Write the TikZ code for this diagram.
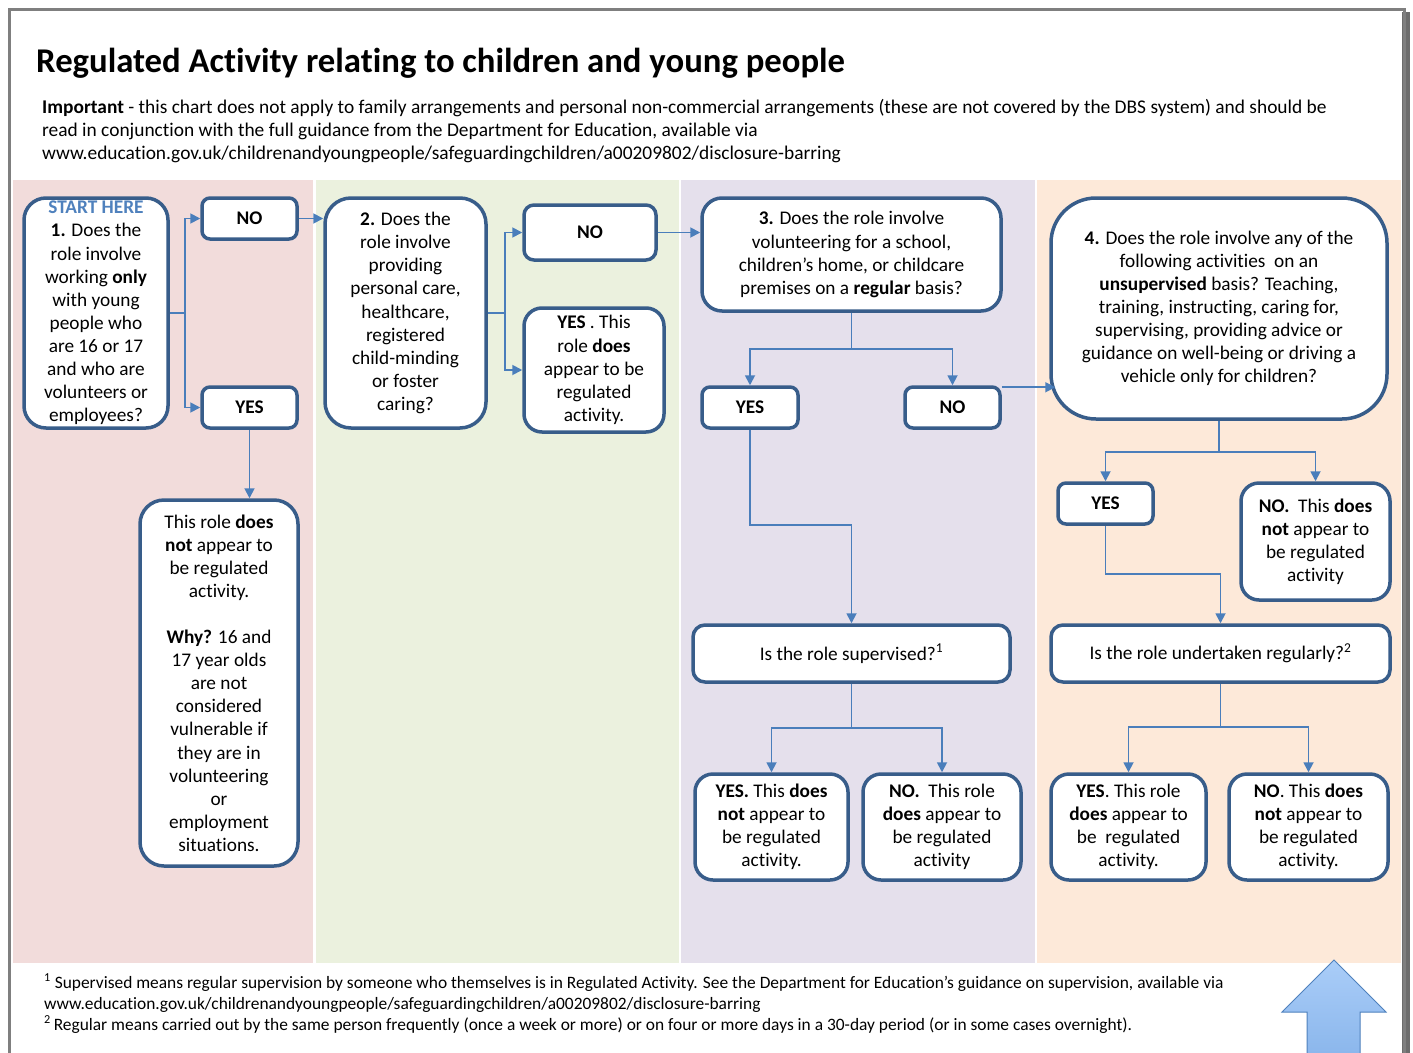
\documentclass[tikz,border=0pt]{standalone}
\usepackage{fontspec}
\setmainfont{Carlito}[Ligatures={NoCommon}]
\usetikzlibrary{arrows.meta,calc}
\definecolor{pinkband}{HTML}{F2DCDB}
\definecolor{greenband}{HTML}{EBF1DE}
\definecolor{purpleband}{HTML}{E5E0EC}
\definecolor{peachband}{HTML}{FDE9D9}
\definecolor{boxblue}{HTML}{385D8A}
\definecolor{lineblue}{HTML}{4A7EBB}
\definecolor{startblue}{HTML}{4F81BD}
\definecolor{framegray}{HTML}{7F7F7F}
\definecolor{arrowtop}{HTML}{AACDF8}
\definecolor{arrowbot}{HTML}{86B3EA}
\tikzset{
  bx/.style={draw=boxblue, line width=3.5pt, fill=white, align=center, inner sep=0pt,
    rounded corners=#1, font=\fontsize{19.3}{23.1}\selectfont},
  bx/.default=10pt,
  conn/.style={draw=lineblue, line width=1.8pt, -{Triangle[length=10pt,width=10pt]}},
  txt/.style={inner sep=0pt, anchor=base west},
}
\begin{document}
\begin{tikzpicture}[x=1pt,y=-1pt]
\path[use as bounding box] (0,0) rectangle (1413,1052);
\clip (0,0) rectangle (1413,1052);
\fill[white] (0,0) rectangle (1413,1052);
% frame
\fill[framegray!85!black] (1402,12) rectangle (1410,1070);
\draw[framegray, line width=3pt] (9.5,9) rectangle (1404,1070);
% bands
\fill[pinkband] (13,180) rectangle (313,963);
\fill[greenband] (315.5,180) rectangle (678.5,963);
\fill[purpleband] (681,180) rectangle (1034.5,963);
\fill[peachband] (1037,180) rectangle (1401,963);
% title and intro
\node[txt, font=\fontsize{34.7}{40}\selectfont\bfseries] (title) at (36,72) {Regulated Activity relating to children and young people};
\node[txt, font=\fontsize{19.4}{23}\selectfont] (imp1) at (42,113) {\textbf{Important} - this chart does not apply to family arrangements and personal non-commercial arrangements (these are not covered by the DBS system) and should be};
\node[txt, font=\fontsize{19.4}{23}\selectfont] (imp2) at (42,136) {read in conjunction with the full guidance from the Department for Education, available via};
\node[txt, font=\fontsize{19.4}{23}\selectfont] (imp3) at (42,159) {www.education.gov.uk/childrenandyoungpeople/safeguardingchildren/a00209802/disclosure-barring};
% boxes
\node[bx=22pt, minimum width=144pt, minimum height=230pt] (start) at (96,313)
  {\textcolor{startblue}{\textbf{START HERE}}\\\textbf{1.} Does the\\role involve\\working \textbf{only}\\with young\\people who\\are 16 or 17\\and who are\\volunteers or\\employees?};
\node[bx=8pt, minimum width=95pt, minimum height=41pt] (no1) at (249.5,218.5) {\textbf{NO}};
\node[bx=8pt, minimum width=95pt, minimum height=41pt] (yes1) at (249.5,407.5) {\textbf{YES}};
\node[bx=24pt, minimum width=158pt, minimum height=366pt] (why) at (219,683)
  {This role \textbf{does}\\\textbf{not} appear to\\be regulated\\activity.\\[23.1pt]\textbf{Why?} 16 and\\17 year olds\\are not\\considered\\vulnerable if\\they are in\\volunteering\\or\\employment\\situations.};
\node[bx=26pt, minimum width=161pt, minimum height=230pt] (box2) at (405.5,313)
  {\textbf{2.} Does the\\role involve\\providing\\personal care,\\healthcare,\\registered\\child-minding\\or foster\\caring?};
\node[bx=10pt, minimum width=132pt, minimum height=55pt] (no2) at (590,232.5) {\textbf{NO}};
\node[bx=18pt, minimum width=140pt, minimum height=124pt] (yes2) at (594,370)
  {\textbf{YES} . This\\role \textbf{does}\\appear to be\\regulated\\activity.};
\node[bx=20pt, minimum width=299pt, minimum height=113pt] (box3) at (851.5,254.5)
  {\textbf{3.} Does the role involve\\volunteering for a school,\\children’s home, or childcare\\premises on a \textbf{regular} basis?};
\node[bx=8pt, minimum width=96pt, minimum height=41pt] (yes3) at (750,407.5) {\textbf{YES}};
\node[bx=8pt, minimum width=95pt, minimum height=41pt] (no3) at (952.5,407.5) {\textbf{NO}};
\node[bx=45pt, minimum width=336pt, minimum height=221pt] (box4) at (1219,308.5)
  {\textbf{4.} Does the role involve any of the\\following activities\ \ on an\\\textbf{unsupervised} basis? Teaching,\\training, instructing, caring for,\\supervising, providing advice or\\guidance on well-being or driving a\\vehicle only for children?};
\node[bx=8pt, minimum width=95pt, minimum height=41pt] (yes4) at (1105.5,503.5) {\textbf{YES}};
\node[bx=18pt, minimum width=149pt, minimum height=117pt] (no4) at (1315.5,541.5)
  {\textbf{NO.}\ \ This \textbf{does}\\\textbf{not} appear to\\be regulated\\activity};
\node[bx=12pt, minimum width=317pt, minimum height=57pt] (sup) at (851.5,653.5)
  {Is the role supervised?\textsuperscript{1}};
\node[bx=12pt, minimum width=339pt, minimum height=57pt] (reg) at (1220.5,653.5)
  {Is the role undertaken regularly?\textsuperscript{2}};
\node[bx=18pt, minimum width=153pt, minimum height=106pt] (yes5) at (771.5,827)
  {\textbf{YES.} This \textbf{does}\\\textbf{not} appear to\\be regulated\\activity.};
\node[bx=18pt, minimum width=158pt, minimum height=106pt] (no5) at (942,827)
  {\textbf{NO.}\ \ This role\\\textbf{does} appear to\\be regulated\\activity};
\node[bx=18pt, minimum width=155pt, minimum height=106pt] (yes6) at (1128.5,827)
  {\textbf{YES}. This role\\\textbf{does} appear to\\be\ \ regulated\\activity.};
\node[bx=18pt, minimum width=159pt, minimum height=106pt] (no6) at (1308.5,827)
  {\textbf{NO}. This \textbf{does}\\\textbf{not} appear to\\be regulated\\activity.};
% connectors
\draw[conn] (start.east) -- ++(15,0) |- (no1.west);
\draw[conn] (start.east) -- ++(15,0) |- (yes1.west);
\draw[conn] (no1.east) -- (no1.east -| box2.west);
\draw[conn] (yes1.south) -- (yes1.south |- why.north);
\draw[conn] (box2.east) -- ++(17,0) |- (no2.west);
\draw[conn] (box2.east) -- ++(17,0) |- (yes2.west);
\draw[conn] (no2.east) -- (no2.east -| box3.west);
\draw[conn] (box3.south) -- ++(0,36) -| (yes3.north);
\draw[conn] (box3.south) -- ++(0,36) -| (no3.north);
\draw[conn] ([yshift=-2pt]no3.north east) -- ([yshift=-2pt,xshift=6pt]no3.north east -| box4.west);
\draw[conn] (yes3.south) -- ++(0,95) -| (sup.north);
\draw[conn] (box4.south) -- ++(0,31) -| (yes4.north);
\draw[conn] (box4.south) -- ++(0,31) -| (no4.north);
\draw[conn] (yes4.south) -- ++(0,48) -| (reg.north);
\draw[conn] (sup.south) -- ++(0,44) -| (yes5.north);
\draw[conn] (sup.south) -- ++(0,44) -| (no5.north);
\draw[conn] (reg.south) -- ++(0,43) -| (yes6.north);
\draw[conn] (reg.south) -- ++(0,43) -| (no6.north);
% footnotes
\node[txt, font=\fontsize{17.4}{21}\selectfont] (fn1) at (44,988) {\textsuperscript{1} Supervised means regular supervision by someone who themselves is in Regulated Activity. See the Department for Education’s guidance on supervision, available via};
\node[txt, font=\fontsize{17.4}{21}\selectfont] (fn2) at (44,1009) {www.education.gov.uk/childrenandyoungpeople/safeguardingchildren/a00209802/disclosure-barring};
\node[txt, font=\fontsize{17.4}{21}\selectfont] (fn3) at (44,1030) {\textsuperscript{2}\,Regular means carried out by the same person frequently (once a week or more) or on four or more days in a 30-day period (or in some cases overnight).};
% big up arrow
\shade[top color=arrowtop, bottom color=arrowbot, draw=startblue, line width=1pt]
  (1334,960) -- (1386,1012) -- (1360,1012) -- (1360,1070) -- (1307,1070) -- (1307,1012) -- (1282,1012) -- cycle;
\end{tikzpicture}
\end{document}
